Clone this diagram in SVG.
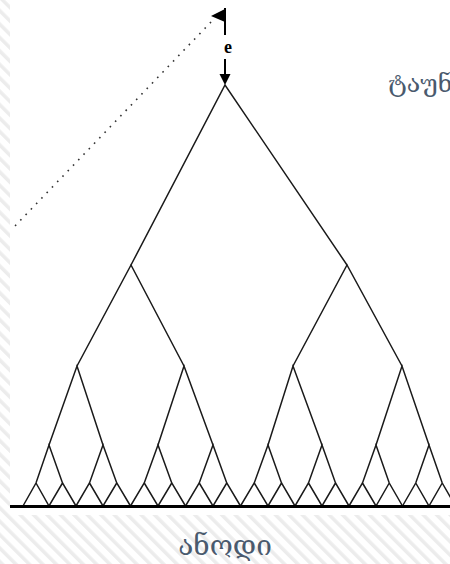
<svg xmlns="http://www.w3.org/2000/svg" width="450" height="564" viewBox="0 0 450 564">
<defs>
<pattern id="hatch" width="9.5" height="9.5" patternUnits="userSpaceOnUse" patternTransform="rotate(-45)">
<rect x="0" y="0" width="3.5" height="9.5" fill="#ececec"/>
</pattern>
</defs>
<style>
.br{fill:none;stroke:#1a1a1a;stroke-width:1.5;stroke-linejoin:miter}
.lbl{font-family:"DejaVu Serif",serif;fill:#4a5a6e}
</style>
<rect width="450" height="564" fill="#fff"/>
<rect width="450" height="564" fill="url(#hatch)"/>
<rect x="10" y="0" width="440" height="515" fill="#fff"/>
<g id="source">
<line x1="225" y1="8" x2="225" y2="35" stroke="#000" stroke-width="2"/>
<polygon points="211,16 225,9 225,22" fill="#000"/>
<text x="228" y="53" font-family="Liberation Serif,serif" font-weight="bold" font-size="18" text-anchor="middle">e</text>
<line x1="225" y1="59" x2="225" y2="76" stroke="#000" stroke-width="2"/>
<polygon points="219.5,74 230.5,74 225,85" fill="#000"/>
</g>
<g id="connectors">
<line x1="211" y1="22" x2="14" y2="227" stroke="#333" stroke-width="1.6" stroke-dasharray="1.6 6"/>
<path class="br" d="M131,265 L225,85 L347,265"/>
<path class="br" d="M77,366 L131,265 L184,366 M293,366 L347,265 L402,366"/>
<path class="br" d="M49,445 L77,366 L103,445 M158,445 L184,366 L213,445 M268,445 L293,366 L322,445 M376,445 L402,366 L429,445"/>
<path class="br" d="M23,506 L36,483 L49,445 L62.5,483 L76,506 M36,483 L49,506 L62.5,483"/>
<path class="br" d="M76,506 L89.5,483 L103,445 L116.75,483 L130.5,506 M89.5,483 L103,506 L116.75,483"/>
<path class="br" d="M130.5,506 L144.25,483 L158,445 L171.75,483 L185.5,506 M144.25,483 L158,506 L171.75,483"/>
<path class="br" d="M185.5,506 L199.25,483 L213,445 L226.75,483 L240.5,506 M199.25,483 L213,506 L226.75,483"/>
<path class="br" d="M240.5,506 L254.25,483 L268,445 L281.5,483 L295,506 M254.25,483 L268,506 L281.5,483"/>
<path class="br" d="M295,506 L308.5,483 L322,445 L335.5,483 L349,506 M308.5,483 L322,506 L335.5,483"/>
<path class="br" d="M349,506 L362.5,483 L376,445 L389.25,483 L402.5,506 M362.5,483 L376,506 L389.25,483"/>
<path class="br" d="M402.5,506 L415.75,483 L429,445 L442.25,483 L455.5,506 M415.75,483 L429,506 L442.25,483"/>
</g>
<g id="ground">
<rect x="10" y="505" width="440" height="3" fill="#000"/>
</g>
<g id="label-top">
<text class="lbl" x="388" y="92" font-size="25">ტაუნსენდი</text>
</g>
<g id="label-bottom">
<text class="lbl" x="225" y="555" font-size="28" text-anchor="middle">ანოდი</text>
</g>
</svg>
